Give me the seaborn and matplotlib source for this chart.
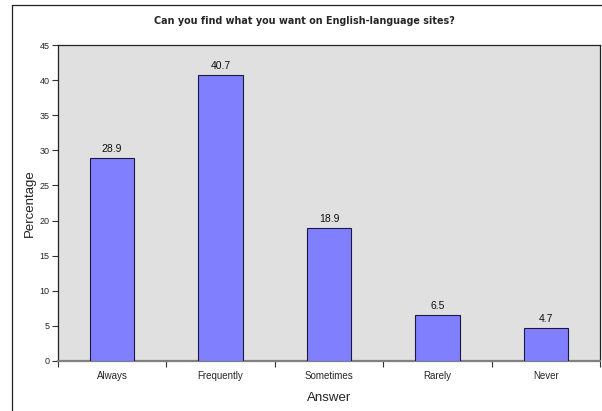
import matplotlib
matplotlib.use("Agg")
import matplotlib.pyplot as plt
from matplotlib.lines import Line2D
import seaborn as sns
import pandas as pd

answers = ["Always", "Frequently", "Sometimes", "Rarely", "Never"]
percentages = [28.9, 40.7, 18.9, 6.5, 4.7]
y_ticks = [0, 5, 10, 15, 20, 25, 30, 35, 40, 45]

df = pd.DataFrame({"Answer": answers, "Percentage": percentages})

sns.set_theme(style="white")
plt.rcParams["font.family"] = ["Liberation Sans", "DejaVu Sans"]

fig = plt.figure(figsize=(6.02, 4.11), dpi=100)
ax = fig.add_axes([0.0963, 0.1217, 0.9004, 0.7688])
ax.set_facecolor("#E0E0E0")

sns.barplot(data=df, x="Answer", y="Percentage", color="#8080FF",
            saturation=1, width=0.41, edgecolor="#1a1a40", linewidth=0.8,
            ax=ax, zorder=3)

for i, v in enumerate(percentages):
    ax.text(i, v + 0.6, f"{v}", ha="center", va="bottom", fontsize=7.5,
            color="#111111")

ax.set_xlim(-0.5, len(answers) - 0.5)
ax.set_ylim(0, 45)
ax.set_yticks(y_ticks)
ax.set_yticklabels([str(t) for t in y_ticks], fontsize=6.5)

# category boundaries carry the tick marks, names sit between them
ax.set_xticks([i - 0.5 for i in range(len(answers) + 1)])
ax.set_xticklabels([])
ax.set_xticks(range(len(answers)), minor=True)
ax.set_xticklabels(answers, minor=True, fontsize=7)
ax.tick_params(axis="x", which="major", length=4, width=0.8, color="#333333",
               direction="out", bottom=True)
ax.tick_params(axis="x", which="minor", length=0, pad=7)
ax.tick_params(axis="y", length=4, width=0.8, color="#333333",
               direction="out", left=True, pad=2)

ax.set_xlabel("Answer", fontsize=9.5, labelpad=8, color="#222222")
ax.set_ylabel("Percentage", fontsize=9.5, labelpad=3, color="#222222")

for side in ["top", "left", "right"]:
    ax.spines[side].set_color("#222222")
    ax.spines[side].set_linewidth(0.9)
    ax.spines[side].set_visible(True)
ax.spines["bottom"].set_color("#808080")
ax.spines["bottom"].set_linewidth(1.6)
ax.spines["bottom"].set_visible(True)

fig.text(304 / 602, 0.950,
         "Can you find what you want on English-language sites?",
         ha="center", va="center", fontsize=6.95, fontweight="bold",
         family=["DejaVu Sans"])

# outer frame edges
fig.add_artist(Line2D([12 / 602, 1.0], [1 - 5 / 411, 1 - 5 / 411],
                      transform=fig.transFigure, color="#222222", lw=0.9))
fig.add_artist(Line2D([12 / 602, 12 / 602], [0, 1 - 5 / 411],
                      transform=fig.transFigure, color="#222222", lw=0.9))

fig.savefig("out.png", dpi=100, facecolor="white")
